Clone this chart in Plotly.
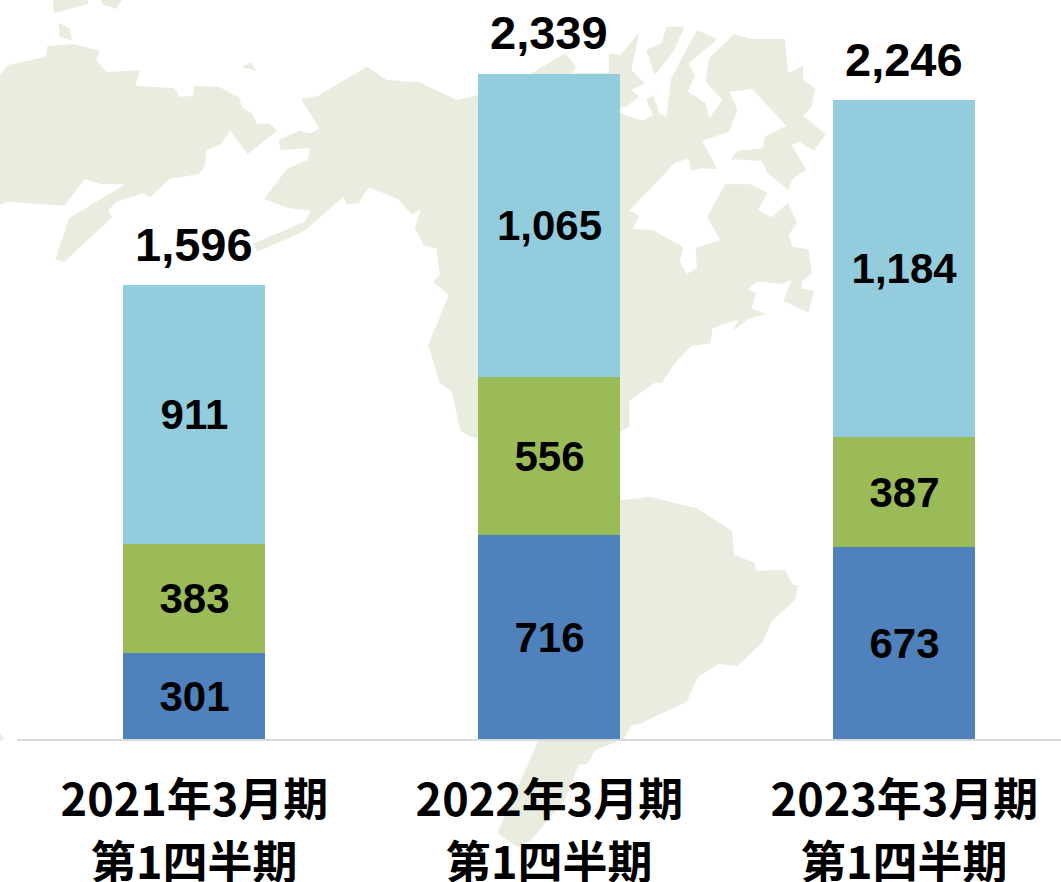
import plotly.graph_objects as go

# ---- data ----
categories = ["2021年3月期", "2022年3月期", "2023年3月期"]
sublabels = ["第1四半期", "第1四半期", "第1四半期"]
series_blue = [301, 716, 673]
series_green = [383, 556, 387]
series_light = [911, 1065, 1184]
totals = [1596, 2339, 2246]

# ---- page geometry ----
W, H = 1061, 882
L, R, T, B = 17, 0, 0, 143
BLUE, GREEN, LIGHT, LAND = "#4F81BD", "#9BBB59", "#93CDDD", "#E9EDE0"
FONT = "Liberation Sans, Arial, sans-serif"
CJK = "Noto Sans CJK JP, sans-serif"

# ---- decorative background map outline, traced in crops (sx=1.478, sy=3) ----
top_crop = [
    [(0,225),(12,195),(68,170),(70,138),(107,132),(148,152),(142,180),(158,217),(207,210),(200,257),(258,265),(265,290),(285,288),(287,257),(325,262),(353,292),(358,322),(373,342),(380,372),(398,370),(410,392),(366,462),(340,392),(327,432),(305,452),(303,497),(294,522),(250,537),(222,592),(212,580),(172,605),(160,630),(166,652),(95,785),(82,778),(102,655),(185,553),(150,552),(125,538),(95,617),(12,605),(0,615)],
    [(445,298),(470,288),(542,200),(572,240),(620,247),(675,300),(706,285),(790,215),(835,160),(852,200),(845,218),(917,218),(917,340),(950,362),(965,345),(955,300),(965,285),(975,340),(985,350),(992,235),(1030,90),(1060,118),(1018,190),(1027,225),(1017,275),(1043,310),(1048,355),(1068,300),(1043,245),(1048,175),(1085,102),(1110,117),(1160,117),(1165,220),(1187,197),(1187,240),(1205,265),(1200,320),(1187,347),(1220,402),(1203,453),(1182,425),(1170,435),(1192,510),(1172,535),(1165,570),(1135,520),(1125,482),(1080,478),(1090,452),(1128,445),(1130,410),(1162,378),(1112,267),(1078,275),(1090,330),(1077,395),(1038,422),(1060,507),(1038,505),(1022,512),(1017,475),(997,490),(930,632),(945,645),(935,687),(965,690),(1010,742),(1005,785),(1015,822),(1030,805),(1028,745),(1065,720),(1045,652),(1072,553),(1110,553),(1135,580),(1120,630),(1140,652),(1165,608),(1178,670),(1165,705),(1172,740),(1195,748),(1200,820),(1185,845),(1185,865),(1203,872),(1195,938),(1158,903),(1170,840),(1155,852),(1120,845),(1105,868),(1118,880),(1110,925),(1132,942),(1105,958),(1082,995),(1092,958),(1053,985),(1050,1030),(1022,1038),(1000,1083),(978,1150),(968,1148),(930,1203),(930,1280),(917,1295),(800,1340),(695,1310),(680,1290),(668,1175),(650,1150),(633,1035),(663,885),(640,845),(650,825),(645,745),(627,737),(613,683),(622,630),(608,642),(588,597),(545,562),(530,610),(512,612),(508,590),(448,695),(380,755),(375,730),(450,665),(460,632),(427,625),(390,597),(425,505),(455,480),(458,445),(415,450),(412,420),(443,392),(458,400),(472,385)],
    [(78,0),(130,0),(130,12),(80,40)],
    [(150,0),(180,0),(172,27),(150,12)],
    [(87,68),(103,85),(107,122),(88,110)],
    [(357,200),(372,187),(378,213)],
    [(945,97),(933,210),(953,250),(933,270),(945,290),(925,320),(900,330),(900,160),(917,165)],
    [(985,80),(1012,80),(995,155),(968,225),(955,150),(978,130)],
]
bottom_crop = [
    [(900,185),(960,170),(1030,205),(1082,272),(1085,345),(1115,368),(1118,392),(1160,390),(1172,435),(1180,437),(1175,480),(1140,545),(1128,605),(1090,678),(1062,672),(1032,710),(1015,785),(945,852),(933,855),(922,897),(880,930),(868,972),(855,975),(835,1080),(785,1200),(765,1222),(735,1180),(795,905),(800,500)],
    [(0,880),(6,895),(0,905)],
]

def path(points, dy=0.0):
    out = []
    for cx, cy in points:
        px, py = cx / 1.478, cy / 3 + dy
        out.append(((px - L) / (W - L - R), (H - B - py) / (H - T - B)))
    return "M" + "L".join(f"{x:.5f},{y:.5f}" for x, y in out) + "Z"

shapes = [dict(type="path", xref="paper", yref="paper", layer="below", path=path(p),
               fillcolor=LAND, line=dict(width=0)) for p in top_crop]
shapes += [dict(type="path", xref="paper", yref="paper", layer="below", path=path(p, 440),
                fillcolor=LAND, line=dict(width=0)) for p in bottom_crop]

fig = go.Figure()
for vals, col in [(series_blue, BLUE), (series_green, GREEN), (series_light, LIGHT)]:
    fig.add_bar(x=categories, y=vals, marker=dict(color=col, line=dict(width=0)),
                text=[f"{v:,}" for v in vals], textposition="inside", textangle=0,
                insidetextanchor="middle", constraintext="none",
                insidetextfont=dict(family=FONT, size=42, color="black", weight="bold"),
                hoverinfo="skip")

annotations = [dict(x=c, y=t, xref="x", yref="y", text=f"{t:,}", showarrow=False,
                    yanchor="bottom", yshift=12, font=dict(family=FONT, size=47, color="black", weight="bold"))
               for c, t in zip(categories, totals)]
annotations += [dict(x=c, y=0, xref="x", yref="paper", text=s, showarrow=False,
                     yanchor="middle", yshift=-120, font=dict(family=CJK, size=45, color="black", weight="bold"))
                for c, s in zip(categories, sublabels)]

fig.update_layout(
    width=W, height=H, margin=dict(l=L, r=R, t=T, b=B, pad=0),
    barmode="stack", bargap=0.6, showlegend=False,
    paper_bgcolor="white", plot_bgcolor="rgba(0,0,0,0)",
    shapes=shapes, annotations=annotations,
    xaxis=dict(type="category", range=[-0.5, 2.441], showline=True, linecolor="#D9D9D9", linewidth=2,
               automargin=False, ticks="outside", ticklen=21, tickcolor="rgba(0,0,0,0)", showgrid=False,
               tickfont=dict(family=CJK, size=45, color="black", weight="bold")),
    yaxis=dict(range=[0, 2596], visible=False, showgrid=False, zeroline=False, automargin=False),
)
fig.write_html("out.html", post_script="document.body.style.margin='0';", config=dict(displayModeBar=False))
